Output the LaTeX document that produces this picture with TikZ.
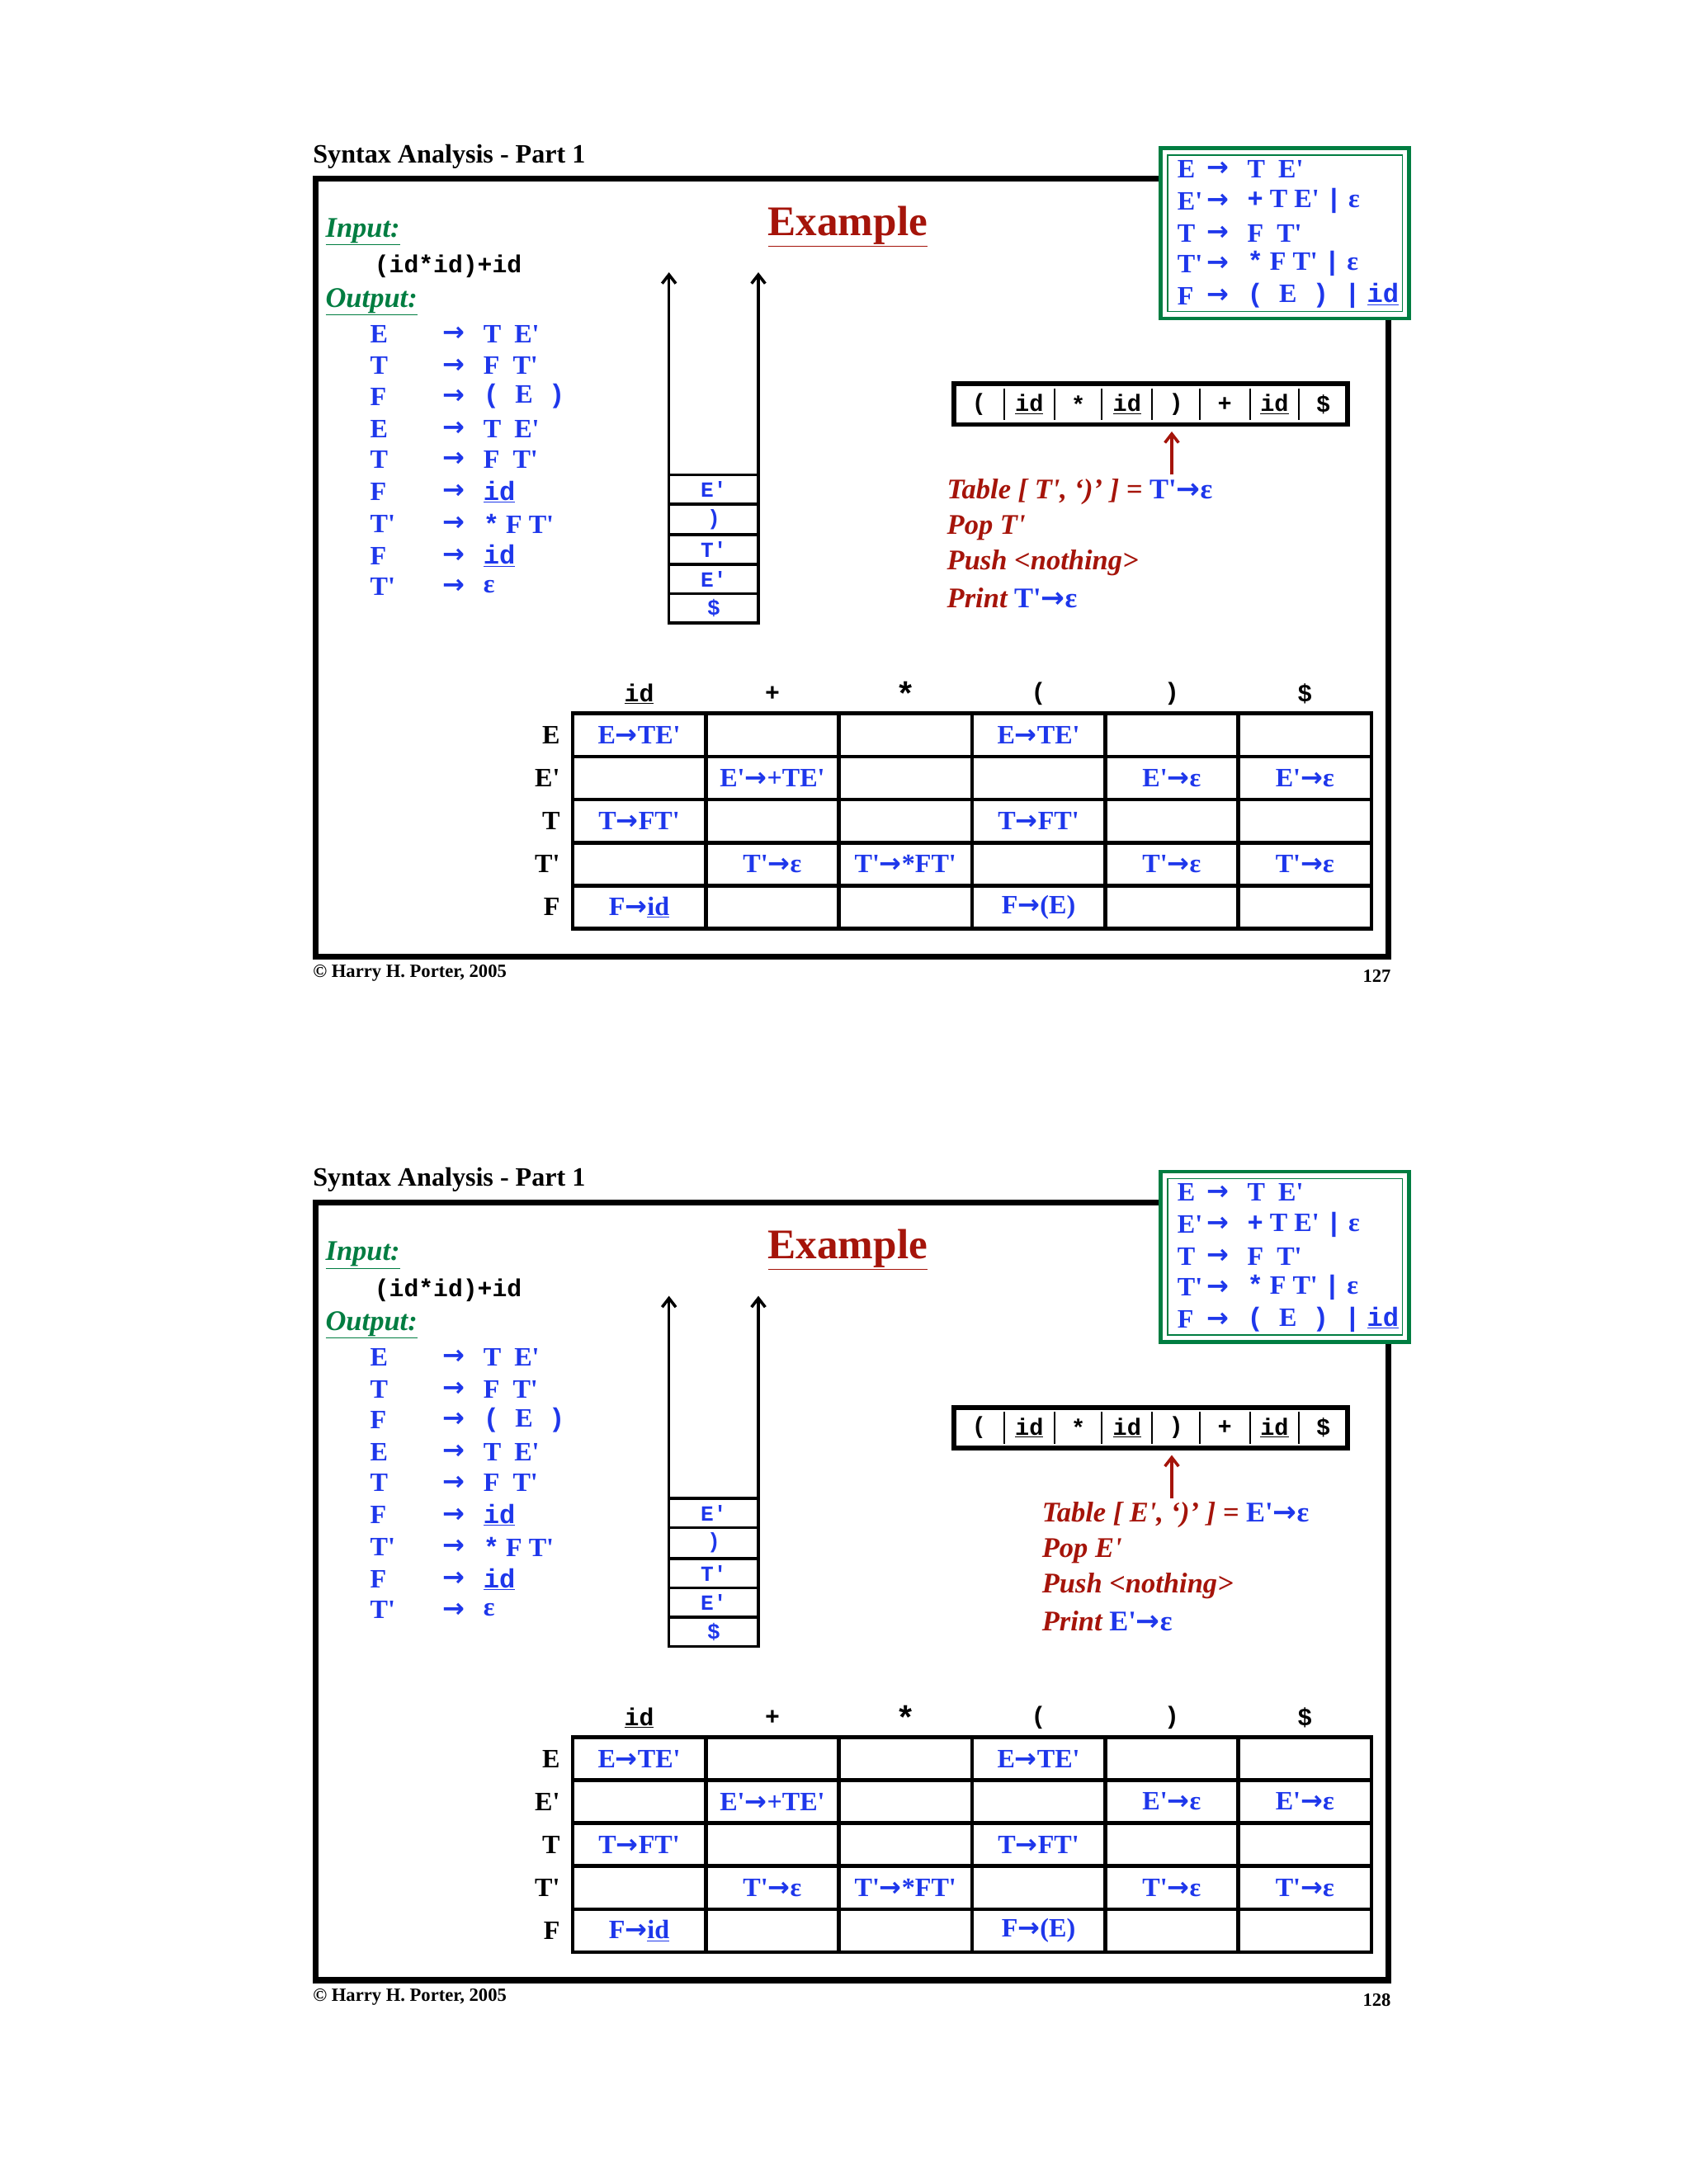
\documentclass[tikz,border=0pt]{standalone}
\usepackage{fontspec}
\usepackage{newunicodechar}
\setmainfont[Ligatures=TeXOff]{Liberation Serif}
\setmonofont[Ligatures=TeXOff]{Liberation Mono}
\newfontfamily\dvf{DejaVu Sans}
\newunicodechar{→}{{\dvf\bfseries\char"2192}}
\usetikzlibrary{arrows.meta}
\definecolor{bl}{RGB}{30,55,235}
\definecolor{rd}{RGB}{165,20,10}
\definecolor{gr}{RGB}{0,125,65}
\newcommand\mt[1]{{\ttfamily\bfseries #1}}
\newcommand\ul[1]{\underline{#1}}
\tikzset{
 txt/.style={anchor=west,inner sep=0pt,font=\fontsize{27}{30}\selectfont\bfseries},
 btxt/.style={txt,text=bl},
 rtxt/.style={anchor=west,inner sep=0pt,text=rd,font=\fontsize{29}{32}\selectfont\bfseries\itshape},
 cell/.style={inner sep=0pt,text=bl,font=\fontsize{27}{30}\selectfont\bfseries},
 grid/.style={line width=4pt},
 stk/.style={line width=3pt},
}
\newcommand\myslide[4]{%
\begin{scope}[shift={(0,#1)}]
 \node[anchor=west,inner sep=0pt,font=\fontsize{27}{30}\selectfont\bfseries] (ti#4) at (224,112) {Syntax Analysis - Part 1};
 \draw[line width=6pt] (226,128) rectangle (994,685);
 \node[anchor=west,inner sep=0pt,font=\fontsize{19}{22}\selectfont\bfseries] (cp#4) at (224,697) {© Harry H. Porter, 2005};
 \node[anchor=east,inner sep=0pt,font=\fontsize{19}{22}\selectfont\bfseries] (pg#4) at (996,699) {#4};
 % grammar box
 \draw[gr,fill=white,line width=4pt] (831,106) rectangle (1009,228);
 \draw[gr,line width=1.2pt] (836,111) rectangle (1004,223);
 \foreach \yy/\l/\r [count=\i] in {121/E/{T\ \ E'},144/E'/{\mt{+} T E' \mt{|} ε},167/T/{F\ \ T'},189/T'/{\mt{*} F T' \mt{|} ε},212/F/{\mt{( }E\mt{ ) |} \mt{\ul{id}}}}{
  \node[btxt] (gl\i#4) at (843,\yy) {\l};
  \node[btxt] (ga\i#4) at (864,\yy) {→};
  \node[btxt,text=bl] (gr\i#4) at (893,\yy) {\r};
 }
 \node[anchor=west,inner sep=0pt,text=gr,font=\fontsize{29}{32}\selectfont\bfseries\itshape] (in#4) at (233,166) {\ul{Input:}};
 \node[anchor=west,inner sep=0pt,font=\fontsize{25}{28}\selectfont\ttfamily\bfseries] (is#4) at (268,191) {(id*id)+id};
 \node[anchor=west,inner sep=0pt,text=gr,font=\fontsize{29}{32}\selectfont\bfseries\itshape] (ou#4) at (233,216) {\ul{Output:}};
 \foreach \yy/\l/\r [count=\i] in {239/E/{T\ \ E'},262/T/{F\ \ T'},284/F/{\mt{( }E\mt{ )}},307/E/{T\ \ E'},329/T/{F\ \ T'},352/F/{\mt{\ul{id}}},375/T'/{\mt{*} F T'},398/F/{\mt{\ul{id}}},420/T'/{ε}}{
  \node[btxt] (ol\i#4) at (265,\yy) {\l};
  \node[btxt] (oa\i#4) at (317,\yy) {→};
  \node[btxt] (or\i#4) at (346,\yy) {\r};
 }
 \node[inner sep=0pt,text=rd,font=\fontsize{43}{46}\selectfont\bfseries] (ex#4) at (607,162) {\ul{Example}};
 % stack
 \coordinate (sl#4) at (479,340); \coordinate (sr#4) at (543,340);
 \coordinate (st1#4) at (479,195); \coordinate (st2#4) at (543,195);
 \draw[stk,-{Straight Barb[length=9pt,width=14pt]}] (sl#4) -- (st1#4);
 \draw[stk,-{Straight Barb[length=9pt,width=14pt]}] (sr#4) -- (st2#4);
 \foreach \a/\b/\t [count=\i] in {340/361/E',361/383/{)},383/404/T',404/425/E',425/446/\$}{
  \draw[stk] (479,\a) rectangle (543,\b);
  \node[cell,font=\fontsize{22}{24}\selectfont\ttfamily\bfseries] (sc\i#4) at (511,{(\a+\b)/2}) {\t};
 }
 % tape
 \draw[line width=5pt] (683,275) rectangle (965,304);
 \foreach \xx in {719,755,789,825,859,895,930}{\draw[line width=1.5pt] (\xx,278) -- (\xx,301);}
 \foreach \a/\b/\t [count=\i] in {683/719/{(},719/755/\ul{id},755/789/*,789/825/\ul{id},825/859/{)},859/895/+,895/930/\ul{id},930/965/\$}{
  \node[inner sep=0pt,font=\fontsize{24}{26}\selectfont\ttfamily\bfseries] (tp\i#4) at ({(\a+\b)/2},289.5) {\t};
 }
 \coordinate (ra#4) at (839,340); \coordinate (rb#4) at (839,309);
 \draw[rd,line width=3pt,-{Straight Barb[length=9pt,width=14pt]}] (ra#4) -- (rb#4);
 \node[rtxt] (r1#4) at (#2,352) {Table [ #3, ‘)’ ] = \textcolor{bl}{\upshape #3→ε}};
 \node[rtxt] (r2#4) at (#2,378) {Pop #3};
 \node[rtxt] (r3#4) at (#2,403) {Push <nothing>};
 \node[rtxt] (r4#4) at (#2,428) {Print \textcolor{bl}{\upshape #3→ε}};
 % table
 \draw[grid] (410,511) rectangle (982,665);
 \foreach \k in {1,...,5}{\draw[grid] ({410+95.33*\k},511) -- ({410+95.33*\k},665);}
 \foreach \k in {1,...,4}{\draw[grid] (410,{511+30.8*\k}) -- (982,{511+30.8*\k});}
 \foreach \t [count=\i] in {\ul{id},+,\fontsize{34}{34}\selectfont*,{(},{)},\$}{
  \node[inner sep=0pt,font=\fontsize{25}{28}\selectfont\ttfamily\bfseries] (th\i#4) at ({410+95.33*(\i-0.5)},497) {\t};
 }
 \foreach \t [count=\i] in {E,E',T,T',F}{
  \node[anchor=east,inner sep=0pt,font=\fontsize{27}{30}\selectfont\bfseries] (rl\i#4) at (401,{511+30.8*(\i-0.5)}) {\t};
 }
 \foreach \c/\r/\t [count=\i] in {1/1/E→TE',4/1/E→TE',2/2/E'→+TE',5/2/E'→ε,6/2/E'→ε,1/3/T→FT',4/3/T→FT',2/4/T'→ε,3/4/T'→*FT',5/4/T'→ε,6/4/T'→ε,1/5/F→\ul{id},4/5/{F→(E)}}{
  \node[cell] (tc\i#4) at ({410+95.33*(\c-0.5)},{511+30.8*(\r-0.5)}) {\t};
 }
\end{scope}}
\begin{document}
\begin{tikzpicture}[x=0.05cm,y=-0.05cm]
\useasboundingbox[fill=white] (0,0) rectangle (1210,1564);
\myslide{0}{678}{T'}{127}
\myslide{733}{746}{E'}{128}
\end{tikzpicture}
\end{document}
